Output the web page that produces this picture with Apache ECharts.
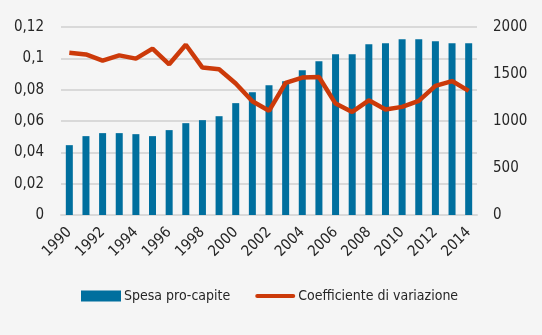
<!DOCTYPE html>
<html><head><meta charset="utf-8">
<script src="https://cdn.jsdelivr.net/npm/echarts@6/dist/echarts.min.js"></script>
<style>html,body{margin:0;padding:0;background:#f5f5f5}#c{width:542px;height:335px}</style>
</head><body><div id="c"></div>
<script>
const years = ['1990','1991','1992','1993','1994','1995','1996','1997','1998','1999','2000','2001','2002','2003','2004','2005','2006','2007','2008','2009','2010','2011','2012','2013','2014'];
const spesa = [743,839,871,871,860,839,903,977,1009,1051,1190,1306,1381,1423,1540,1636,1710,1710,1816,1827,1869,1869,1848,1827,1827];
const coeff = [0.1036,0.1025,0.0985,0.1019,0.0998,0.1062,0.0962,0.1087,0.0941,0.0930,0.0839,0.0726,0.0665,0.0843,0.0877,0.0881,0.0711,0.0658,0.0732,0.0673,0.0690,0.0728,0.0824,0.0855,0.0792];
const font = '"Liberation Sans Narrow","DejaVu Sans Condensed",sans-serif';
const txt = '#262626';
const chart = echarts.init(document.getElementById('c'));
chart.setOption({
  backgroundColor:'#f5f5f5',
  animation:false,
  textStyle:{fontFamily:font},
  grid:{left:61,right:65,top:27,bottom:120,containLabel:false},
  legend:{top:289,left:81,padding:0,itemGap:25,itemWidth:40,itemHeight:11,
    textStyle:{fontFamily:font,fontSize:14,color:txt,padding:[0,0,0,-2]},
    data:[{name:'Spesa pro-capite',icon:'rect'},
          {name:'Coefficiente di variazione',icon:'path://M0,0 M40,11 M2,3.5 L38,3.5 A2,2 0 0 1 38,7.5 L2,7.5 A2,2 0 0 1 2,3.5 Z',
           itemStyle:{color:'#cc3a0a',borderWidth:0}}]},
  xAxis:{type:'category',data:years,
    axisTick:{show:false},
    axisLine:{lineStyle:{color:'#d9d9d9',width:2}},
    axisLabel:{interval:1,rotate:45,color:txt,fontFamily:font,fontSize:15,margin:15}},
  yAxis:[
    {type:'value',min:0,max:0.12,interval:0.02,position:'left',
     axisLabel:{color:txt,fontFamily:font,fontSize:15,margin:17,formatter:v=>String(+v.toFixed(2)).replace('.',',')},
     splitLine:{lineStyle:{color:'#d9d9d9',width:2}},axisLine:{show:false},axisTick:{show:false}},
    {type:'value',min:0,max:2000,interval:500,position:'right',
     axisLabel:{color:txt,fontFamily:font,fontSize:15,margin:16,formatter:v=>String(v)},
     splitLine:{show:false},axisLine:{show:false},axisTick:{show:false}}
  ],
  series:[
    {name:'Spesa pro-capite',type:'bar',yAxisIndex:1,data:spesa,barWidth:7,itemStyle:{color:'#006f9e'}},
    {name:'Coefficiente di variazione',type:'line',yAxisIndex:0,data:coeff,symbol:'none',
     lineStyle:{color:'#cc3a0a',width:4.5},itemStyle:{color:'#cc3a0a'}}
  ]
});
</script></body></html>
